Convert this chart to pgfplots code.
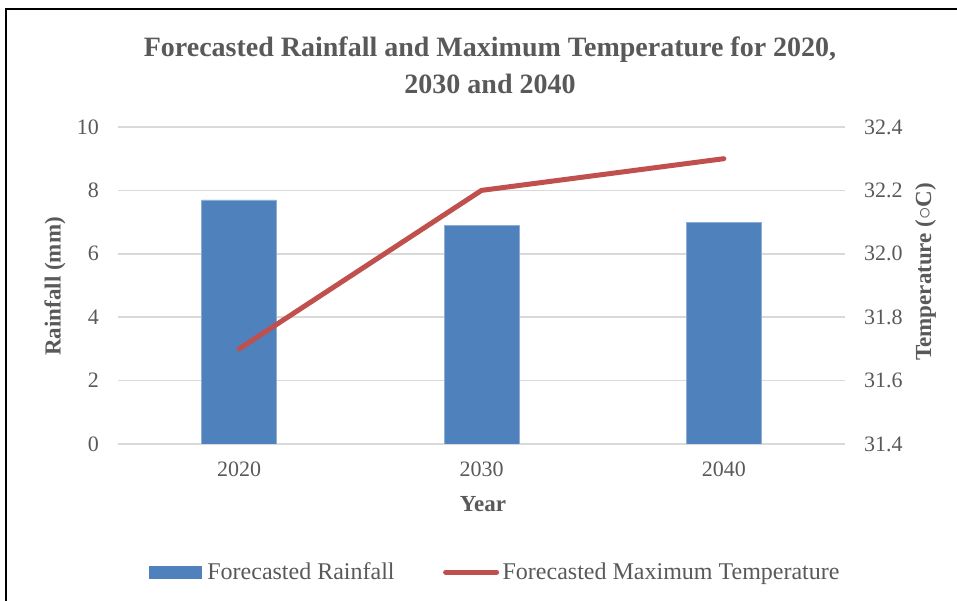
\documentclass[border=0pt]{standalone}
\usepackage{fontspec}
\setmainfont{Liberation Serif}
\usepackage{pgfplots}
\usepackage{pgfplotstable}
\pgfplotsset{compat=1.18}

\definecolor{txt}{HTML}{595959}
\definecolor{barblue}{HTML}{4F81BD}
\definecolor{linered}{HTML}{C0504D}
\definecolor{gridc}{HTML}{D9D9D9}

% year index, rainfall (mm), max temperature (C)
\pgfplotstableread{
x rain temp
0 7.7 31.7
1 6.9 32.2
2 7.0 32.3
}\forecast

\begin{document}
\begin{tikzpicture}[x=1pt,y=1pt]
\pgfplotsset{
  base/.style={
    scale only axis, width=727pt, height=317pt,
    at={(0,0)}, anchor=south west,
    xmin=-0.5, xmax=2.5,
    xtick={0,1,2}, xticklabels={2020,2030,2040},
    major tick length=0pt,
    axis line style={draw=none},
    /pgf/number format/assume math mode=true,
    tick label style={font=\fontsize{22}{26}\selectfont, text=txt, inner sep=0pt},
  }
}
\begin{axis}[base,
  axis y line*=left, axis x line*=bottom,
  ymin=0, ymax=10, ytick={0,2,4,6,8,10},
  ymajorgrids, grid style={gridc, line width=1.5pt},
  yticklabel style={xshift=-19pt},
  xticklabel style={yshift=-18pt},
  xlabel={Year},
  every axis x label/.style={at={(axis description cs:0.502,-0.2145)}, anchor=base,
    font=\bfseries\fontsize{23}{26}\selectfont, text=txt},
  ylabel={Rainfall (mm)},
  every axis y label/.style={at={(axis description cs:-0.0867,0.497)}, anchor=center, rotate=90,
    font=\bfseries\fontsize{23}{26}\selectfont, text=txt},
  title={Forecasted Rainfall and Maximum Temperature for 2020,\\2030 and 2040},
  every axis title/.style={at={(axis description cs:0.5117,1.285)}, anchor=north, align=center,
    inner sep=0pt, font=\bfseries\fontsize{28}{37}\selectfont, text=txt},
]
\addplot[ybar, bar width=75pt, fill=barblue, draw=barblue!65!white, line width=0.7pt]
  table[x=x, y=rain]{\forecast};
\end{axis}

\begin{axis}[base,
  axis y line*=right, axis x line=none,
  ymin=31.4, ymax=32.4, ytick={31.4,31.6,31.8,32.0,32.2,32.4},
  yticklabel style={xshift=19pt, /pgf/number format/.cd, fixed, fixed zerofill, precision=1},
  ylabel={Temperature ($\circ$C)},
  every axis y label/.style={at={(axis description cs:1.111,0.543)}, anchor=center, rotate=90,
    font=\bfseries\fontsize{23}{26}\selectfont, text=txt},
  legend columns=2,
  legend style={draw=none, fill=none, at={(axis description cs:0.5175,-0.404)}, anchor=center,
    font=\fontsize{24}{28}\selectfont, text=txt, inner sep=0pt,
    nodes={inner sep=0pt},
    /tikz/every even column/.append style={column sep=46pt}},
]
\addlegendimage{legend image code/.code={
  \fill[barblue] (0pt,-6pt) rectangle (52pt,6pt);
  \path (58pt,0pt);}}
\addlegendentry{Forecasted Rainfall}
\addplot[linered, line width=5pt, line cap=round, line join=round,
  legend image code/.code={
    \draw[linered, line width=5pt, line cap=round] (2.5pt,0pt) -- (53.5pt,0pt);
    \path (0pt,0pt) (57pt,0pt);}]
  table[x=x, y=temp]{\forecast};
\addlegendentry{Forecasted Maximum Temperature}
\end{axis}

\pgfresetboundingbox
\path[use as bounding box] (-118,-157) rectangle (839,444);
\draw[line width=2.5pt, black] (-112,-170) -- (-112,435) -- (850,435);
\end{tikzpicture}
\end{document}
